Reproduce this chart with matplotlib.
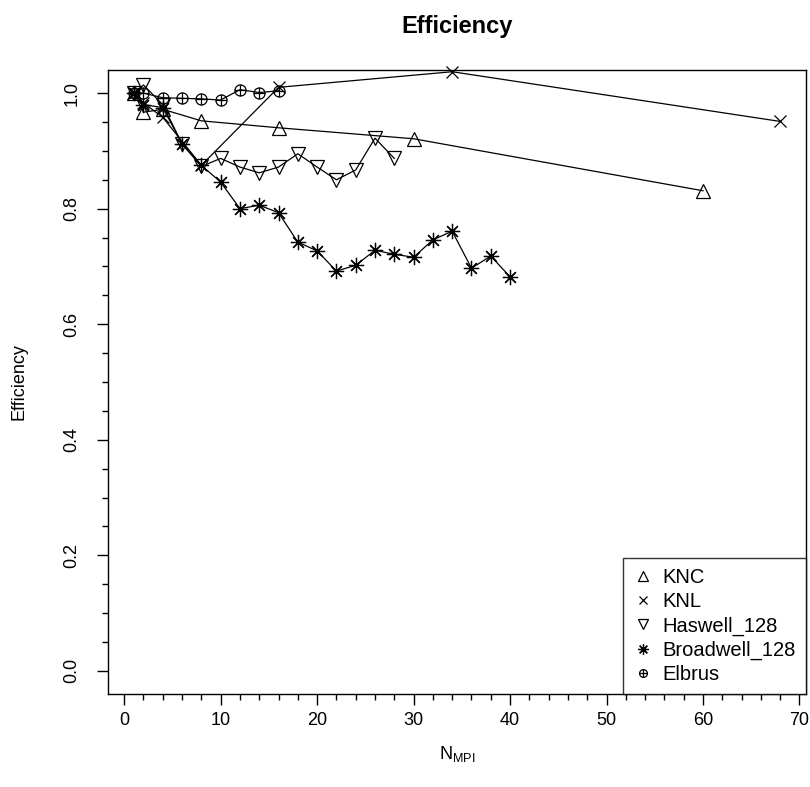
import matplotlib
matplotlib.use("Agg")
import matplotlib.pyplot as plt
from matplotlib.ticker import MultipleLocator
from matplotlib.path import Path

plt.rcParams['font.family'] = ['Liberation Sans', 'DejaVu Sans']
plt.rcParams['mathtext.fontset'] = 'custom'
plt.rcParams['mathtext.rm'] = 'Liberation Sans'

knc_x = [1, 2, 4, 8, 16, 30, 60]
knc_y = [1.0, 0.967, 0.972, 0.952, 0.940, 0.921, 0.831]

knl_x = [1, 2, 4, 8, 16, 34, 68]
knl_y = [1.0, 0.983, 0.958, 0.875, 1.010, 1.037, 0.951]

has_x = [1, 2, 4, 6, 8, 10, 12, 14, 16, 18, 20, 22, 24, 26, 28]
has_y = [1.0, 1.014, 0.980, 0.912, 0.873, 0.887, 0.872, 0.862, 0.872, 0.895,
         0.872, 0.850, 0.867, 0.922, 0.887]

brd_x = [1, 2, 4, 6, 8, 10, 12, 14, 16, 18, 20, 22, 24, 26, 28, 30, 32, 34, 36, 38, 40]
brd_y = [1.0, 0.980, 0.975, 0.912, 0.875, 0.846, 0.800, 0.806, 0.793, 0.742, 0.727,
         0.692, 0.702, 0.728, 0.721, 0.716, 0.746, 0.761, 0.697, 0.718, 0.682]

elb_x = [1, 2, 4, 6, 8, 10, 12, 14, 16]
elb_y = [1.0, 1.0, 0.992, 0.991, 0.990, 0.988, 1.006, 1.001, 1.004]

labels = ["KNC", "KNL", "Haswell_128", "Broadwell_128", "Elbrus"]

# circle with plus (R pch 10)
oplus = Path.make_compound_path(Path.unit_circle(),
                                Path([[-1, 0], [1, 0]]),
                                Path([[0, -1], [0, 1]]))

fig = plt.figure(figsize=(8.1, 7.87), dpi=100)
ax = fig.add_axes([108/810, 1-694/787, 698/810, 624/787])

lw = 0.9
kw = dict(color='black', lw=lw, markerfacecolor='none', markeredgecolor='black',
          markeredgewidth=0.9, clip_on=False)
h1, = ax.plot(knc_x, knc_y, marker='^', ms=10, **kw)
h2, = ax.plot(knl_x, knl_y, marker='x', ms=8, **kw)
h3, = ax.plot(has_x, has_y, marker='v', ms=10, **kw)
h4, = ax.plot(brd_x, brd_y, marker=(8, 2, 0), ms=11, **kw)
h5, = ax.plot(elb_x, elb_y, marker=oplus, ms=8, **kw)

ax.set_xlim(-1.68, 70.68)
ax.set_ylim(-0.04, 1.04)
ax.xaxis.set_minor_locator(MultipleLocator(2))
ax.yaxis.set_minor_locator(MultipleLocator(0.05))
ax.set_xticks(range(0, 71, 10))
ax.set_xticklabels([str(v) for v in range(0, 71, 10)])
ax.set_yticks([0, 0.2, 0.4, 0.6, 0.8, 1.0])
ax.set_yticklabels(["0.0", "0.2", "0.4", "0.6", "0.8", "1.0"], rotation=90, va='center')
ax.tick_params(which='major', direction='out', length=8, width=1.0, labelsize=13)
ax.tick_params(which='minor', direction='out', length=4, width=1.0)
ax.tick_params(axis='x', which='major', pad=5)
ax.tick_params(axis='y', which='major', pad=12)
for s in ax.spines.values():
    s.set_linewidth(1.0)

ax.set_title("Efficiency", fontsize=17, fontweight='bold', pad=27)
ax.set_xlabel(r"$\mathregular{N_{MPI}}$", fontsize=13, labelpad=11)
ax.set_ylabel("Efficiency", fontsize=13, labelpad=26)

leg = ax.legend([h1, h2, h3, h4, h5], labels, loc='lower right',
                fontsize=14.5, frameon=True, fancybox=False, edgecolor='black',
                handlelength=1.0, handletextpad=0.45, borderaxespad=0,
                labelspacing=0.25, borderpad=0.5, markerscale=0.7)
leg.get_frame().set_linewidth(1.0)
for h in leg.legend_handles:
    h.set_linestyle('none')

fig.savefig("out.png", dpi=100)
